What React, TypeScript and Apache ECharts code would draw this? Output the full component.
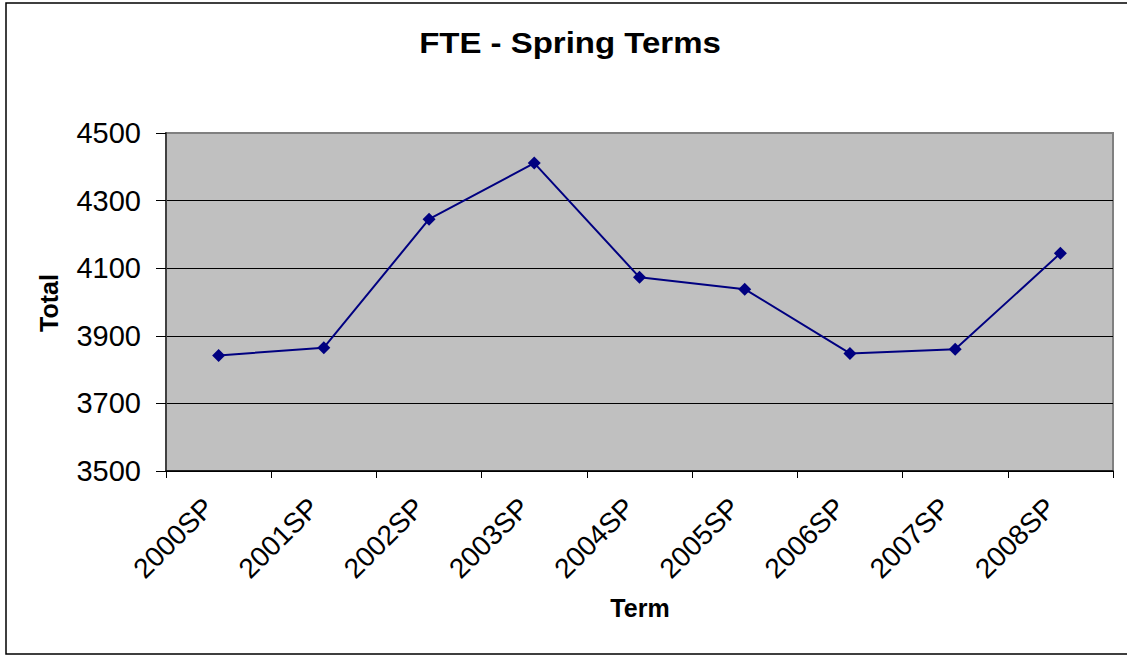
import React, { useEffect, useRef } from "react";
import * as echarts from "echarts";

const terms = ["2000SP", "2001SP", "2002SP", "2003SP", "2004SP", "2005SP", "2006SP", "2007SP", "2008SP"];
const totals = [3842, 3865, 4245, 4411, 4073, 4038, 3848, 3860, 4144];
const yMin = 3500;
const yMax = 4500;
const yStep = 200;
const chartTitle = "FTE - Spring Terms";
const xName = "Term";
const yName = "Total";

const FONT = "'Liberation Sans', Arial, Helvetica, sans-serif";

export default function App() {
  const ref = useRef<HTMLDivElement>(null);
  useEffect(() => {
    if (!ref.current) return;
    const chart = echarts.init(ref.current, null, { renderer: "svg" });
    chart.setOption({
      animation: false,
      backgroundColor: "#ffffff",
      grid: {
        left: 166,
        right: 14,
        top: 133,
        bottom: 185,
        show: true,
        backgroundColor: "#C0C0C0",
        borderColor: "#808080",
        borderWidth: 2,
      },
      graphic: [
        {
          type: "rect",
          shape: { x: 6, y: 3, width: 1130, height: 651 },
          style: { fill: "none", stroke: "#000", lineWidth: 1.5 },
          silent: true,
          z: -10,
        },
        {
          type: "text",
          x: 570,
          y: 43,
          scaleX: 1.1,
          style: {
            text: chartTitle,
            font: `bold 30px ${FONT}`,
            fill: "#000",
            align: "center",
            verticalAlign: "middle",
          },
        },
        {
          type: "text",
          x: 640,
          y: 608,
          style: {
            text: xName,
            font: `bold 25px ${FONT}`,
            fill: "#000",
            align: "center",
            verticalAlign: "middle",
          },
        },
        {
          type: "text",
          x: 49,
          y: 303,
          rotation: Math.PI / 2,
          style: {
            text: yName,
            font: `bold 25px ${FONT}`,
            fill: "#000",
            align: "center",
            verticalAlign: "middle",
          },
        },
      ],
      xAxis: {
        type: "category",
        data: terms,
        boundaryGap: true,
        axisLine: { show: true, lineStyle: { color: "#000", width: 1.5 } },
        axisTick: { show: true, length: 7, lineStyle: { color: "#000", width: 1 } },
        axisLabel: {
          interval: 0,
          rotate: 45,
          margin: 22,
          padding: [0, 14, 0, 0],
          fontSize: 28,
          fontFamily: FONT,
          color: "#000",
        },
        splitLine: { show: false },
      },
      yAxis: {
        type: "value",
        min: yMin,
        max: yMax,
        interval: yStep,
        axisLine: { show: true, lineStyle: { color: "#404040", width: 2 } },
        axisTick: { show: true, length: 10, lineStyle: { color: "#000", width: 1 } },
        axisLabel: {
          margin: 25,
          fontSize: 29,
          fontFamily: FONT,
          color: "#000",
          formatter: (v: number) => String(v),
        },
        splitLine: {
          show: true,
          lineStyle: { color: ["#000", "#000", "#000", "#000", "#000", "#808080"], width: 1 },
        },
      },
      series: [
        {
          type: "line",
          data: totals,
          symbol: "diamond",
          symbolSize: 13,
          lineStyle: { color: "#000080", width: 2 },
          itemStyle: { color: "#000080" },
        },
      ],
    });
    return () => chart.dispose();
  }, []);
  return (
    <div
      ref={ref}
      style={{ position: "absolute", left: 0, top: 0, width: 1127, height: 656, background: "#fff" }}
    />
  );
}
